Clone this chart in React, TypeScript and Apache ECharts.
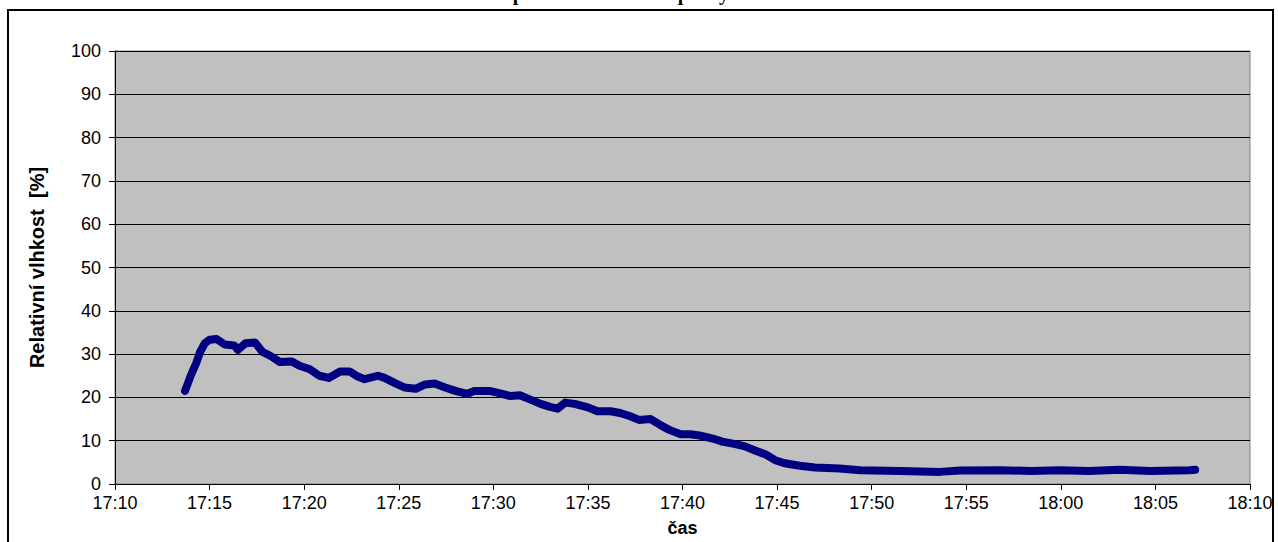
import React, { useEffect, useRef } from "react";
import * as echarts from "echarts";

const titleText = "Relativní vlhkost při sušení vzduchu pevným sorbentem v koloně";
const yAxisName = "Relativní vlhkost  [%]";
const xAxisName = "čas";

const times: string[] = [
  "17:13:42", "17:13:50", "17:14:00", "17:14:18", "17:14:30", "17:14:45", "17:15:00", "17:15:22",
  "17:15:48", "17:16:18", "17:16:30", "17:16:54", "17:17:24", "17:17:48", "17:18:15", "17:18:42",
  "17:19:21", "17:19:45", "17:20:18", "17:20:48", "17:21:18", "17:21:54", "17:22:24", "17:22:50",
  "17:23:12", "17:23:54", "17:24:15", "17:24:48", "17:25:18", "17:25:54", "17:26:24", "17:26:54",
  "17:27:27", "17:28:00", "17:28:36", "17:29:00", "17:29:48", "17:30:18", "17:30:54", "17:31:24",
  "17:31:54", "17:32:30", "17:33:00", "17:33:24", "17:33:48", "17:34:18", "17:35:00", "17:35:30",
  "17:36:12", "17:36:42", "17:37:12", "17:37:42", "17:38:18", "17:38:48", "17:39:18", "17:39:54",
  "17:40:24", "17:40:54", "17:41:36", "17:42:06", "17:42:48", "17:43:18", "17:43:48", "17:44:24",
  "17:44:54", "17:45:24", "17:46:12", "17:47:00", "17:48:18", "17:49:24", "17:51:30", "17:53:36",
  "17:54:40", "17:56:48", "17:58:24", "17:59:54", "18:01:30", "18:03:06", "18:04:42", "18:06:48",
  "18:07:06",
];

const humidity: number[] = [
  21.5, 23, 25, 28, 30.5, 32.5, 33.3, 33.5,
  32.2, 32, 31, 32.5, 32.7, 30.5, 29.5, 28.2,
  28.3, 27.3, 26.5, 25, 24.5, 26, 26, 24.8,
  24.2, 25, 24.5, 23.3, 22.3, 22, 23, 23.2,
  22.3, 21.5, 20.8, 21.5, 21.5, 21, 20.3, 20.5,
  19.6, 18.5, 17.8, 17.4, 18.8, 18.5, 17.7, 16.8,
  16.8, 16.4, 15.7, 14.8, 15, 13.7, 12.5, 11.5,
  11.5, 11.2, 10.5, 9.8, 9.2, 8.7, 7.8, 6.8,
  5.5, 4.8, 4.2, 3.8, 3.6, 3.2, 3, 2.8,
  3.1, 3.2, 3, 3.2, 3, 3.3, 3, 3.2,
  3.3,
];

const toMinutes = (t: string) => {
  const [h, m, s] = t.split(":").map(Number);
  return h * 60 + m + s / 60;
};

const fmt = (v: number) => {
  const h = Math.floor(v / 60);
  const m = Math.round(v - h * 60);
  return `${h}:${m < 10 ? "0" + m : m}`;
};

export default function App() {
  const ref = useRef<HTMLDivElement>(null);
  useEffect(() => {
    if (!ref.current) return;
    const chart = echarts.init(ref.current, null, { renderer: "svg" });
    const data = times.map((t, i) => [toMinutes(t), humidity[i]]);
    chart.setOption({
      animation: false,
      backgroundColor: "#ffffff",
      grid: {
        left: 115,
        right: 28,
        top: 51,
        bottom: 56,
        show: true,
        backgroundColor: "#C0C0C0",
        borderColor: "#808080",
        borderWidth: 1,
      },
      graphic: [
        {
          type: "rect",
          shape: { x: 8, y: 10, width: 1265, height: 620 },
          style: { fill: "none", stroke: "#000", lineWidth: 2 },
          silent: true,
        },
        {
          type: "text",
          x: 640,
          y: -17,
          style: {
            text: titleText,
            fontFamily: "Liberation Serif",
            fontWeight: "bold",
            fontSize: 20,
            fill: "#000",
            align: "center",
            verticalAlign: "top",
          },
        },
      ],
      xAxis: {
        type: "value",
        min: 1030,
        max: 1090,
        interval: 5,
        name: xAxisName,
        nameLocation: "middle",
        nameGap: 35,
        nameTextStyle: { fontFamily: "Liberation Sans", fontWeight: "bold", fontSize: 18, color: "#000" },
        axisLine: { show: true, lineStyle: { color: "#000", width: 1 } },
        axisTick: { show: true, length: 6, lineStyle: { color: "#000" } },
        axisLabel: {
          formatter: fmt,
          fontFamily: "Liberation Sans",
          fontSize: 18,
          color: "#000",
          margin: 10,
        },
        splitLine: { show: false },
      },
      yAxis: {
        type: "value",
        min: 0,
        max: 100,
        interval: 10,
        name: yAxisName,
        nameLocation: "middle",
        nameGap: 68,
        nameTextStyle: { fontFamily: "Liberation Sans", fontWeight: "bold", fontSize: 20, color: "#000" },
        axisLine: { show: true, lineStyle: { color: "#000", width: 1 } },
        axisTick: { show: true, length: 6, lineStyle: { color: "#000" } },
        axisLabel: {
          fontFamily: "Liberation Sans",
          fontSize: 18,
          color: "#000",
          margin: 14,
        },
        splitLine: { show: true, lineStyle: { color: "#000", width: 1 } },
      },
      series: [
        {
          type: "line",
          data,
          showSymbol: false,
          smooth: false,
          lineStyle: { color: "#000080", width: 8, cap: "round", join: "round" },
          itemStyle: { color: "#000080" },
        },
      ],
    });
    return () => chart.dispose();
  }, []);
  return (
    <div
      ref={ref}
      style={{ position: "absolute", left: 0, top: 0, width: 1278, height: 542 }}
    />
  );
}
